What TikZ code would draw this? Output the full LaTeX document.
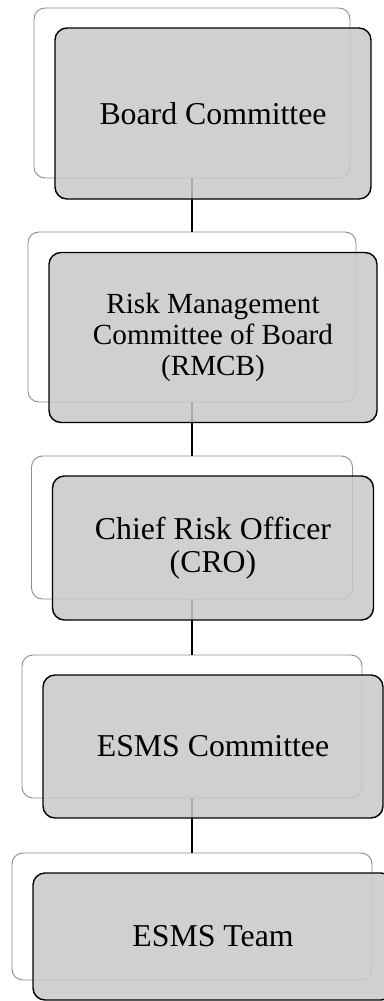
\documentclass[tikz,border=0pt]{standalone}
\usepackage{fontspec}
\setmainfont{Liberation Serif}
\definecolor{frontfill}{RGB}{200,200,200}
\definecolor{backline}{RGB}{140,140,140}
\tikzset{
  backbox/.style={draw=backline, line width=0.9pt, rounded corners=11pt, inner sep=0pt},
  frontbox/.style={draw=black, line width=1.4pt, rounded corners=12pt, fill=frontfill, fill opacity=0.85, text opacity=1, inner sep=0pt, align=center},
  link/.style={draw=black, line width=2pt},
  bigtxt/.style={font=\fontsize{31.8}{33}\selectfont},
  midtxt/.style={font=\fontsize{29.2}{31.3}\selectfont},
}
\begin{document}
\begin{tikzpicture}[x=1pt,y=-1pt]
\useasboundingbox (0,0) rectangle (383,1001);
% back outlines
\node[backbox, minimum width=316pt, minimum height=170pt] (b1) at (192,93) {};
\node[backbox, minimum width=328pt, minimum height=170pt] (b2) at (192,317) {};
\node[backbox, minimum width=321pt, minimum height=143pt] (b3) at (192,527.5) {};
\node[backbox, minimum width=340pt, minimum height=143pt] (b4) at (192,726.5) {};
\node[backbox, minimum width=360pt, minimum height=127pt] (b5) at (192,916.5) {};
% connectors
\draw[link] (b1.south) -- (b2.north);
\draw[link] (b2.south) -- (b3.north);
\draw[link] (b3.south) -- (b4.north);
\draw[link] (b4.south) -- (b5.north);
% front boxes
\node[frontbox, bigtxt, minimum width=316pt, minimum height=171pt] (f1) at (213,113.5) {Board Committee};
\node[frontbox, midtxt, minimum width=328pt, minimum height=170pt] (f2) at (213,337.5) {Risk Management\\Committee of Board\\(RMCB)};
\node[frontbox, bigtxt, minimum width=321pt, minimum height=144pt] (f3) at (213,548) {Chief Risk Officer\\(CRO)};
\node[frontbox, bigtxt, minimum width=340pt, minimum height=143pt] (f4) at (213,746.5) {ESMS Committee};
\node[frontbox, bigtxt, minimum width=360pt, minimum height=127pt] (f5) at (213,936.5) {ESMS Team};
\end{tikzpicture}
\end{document}
